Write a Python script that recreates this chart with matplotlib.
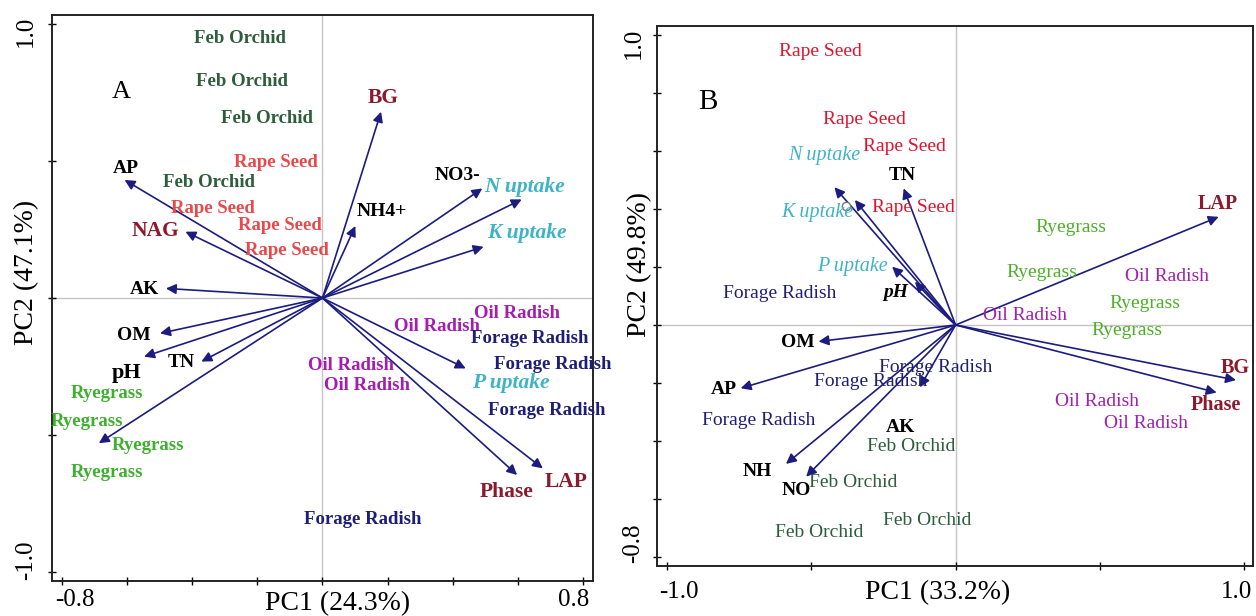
import matplotlib
matplotlib.use("Agg")
import matplotlib.pyplot as plt
from matplotlib.transforms import ScaledTranslation

# ---------------- data : panel A ----------------
A_arrow_vars = ['BG', 'AP', 'NAG', 'AK', 'NH4+', 'NO3-', 'N uptake', 'K uptake',
                'OM', 'pH', 'TN', '', 'P uptake', 'Phase', 'LAP']
A_arrow_pc1 = [0.180, -0.608, -0.421, -0.481, 0.101, 0.491, 0.612, 0.495,
               -0.499, -0.548, -0.372, -0.687, 0.440, 0.598, 0.677]
A_arrow_pc2 = [0.680, 0.431, 0.242, 0.035, 0.263, 0.400, 0.360, 0.187,
               -0.129, -0.214, -0.232, -0.530, -0.257, -0.646, -0.622]

A_var_names = ['BG', 'AP', 'NAG', 'AK', 'NH4+', 'NO3-', 'N uptake', 'K uptake',
               'OM', 'pH', 'TN', 'P uptake', 'Phase', 'LAP']
A_var_lx = [0.186, -0.603, -0.512, -0.548, 0.183, 0.416, 0.620, 0.628,
            -0.578, -0.603, -0.433, 0.580, 0.565, 0.749]
A_var_ly = [0.729, 0.473, 0.246, 0.032, 0.315, 0.449, 0.404, 0.236,
            -0.135, -0.275, -0.236, -0.309, -0.707, -0.670]

A_sample_names = ['Feb Orchid'] * 4 + ['Rape Seed'] * 4 + ['Oil Radish'] * 4 + \
                 ['Forage Radish'] * 4 + ['Ryegrass'] * 4
A_sample_pc1 = [-0.253, -0.248, -0.170, -0.348,
                -0.144, -0.336, -0.132, -0.108,
                0.598, 0.353, 0.089, 0.137,
                0.637, 0.707, 0.689, 0.125,
                -0.663, -0.724, -0.536, -0.661]
A_sample_pc2 = [0.948, 0.789, 0.656, 0.422,
                0.495, 0.327, 0.266, 0.175,
                -0.056, -0.105, -0.245, -0.321,
                -0.147, -0.241, -0.409, -0.807,
                -0.350, -0.451, -0.540, -0.637]

# ---------------- data : panel B ----------------
B_arrow_vars = ['N uptake', 'K uptake', 'TN', 'LAP', 'P uptake', 'pH', 'OM', 'AP',
                'BG', 'Phase', 'AK', 'NH', 'NO']
B_arrow_pc1 = [-0.420, -0.349, -0.180, 0.912, -0.220, -0.141, -0.475, -0.745,
               0.972, 0.905, -0.124, -0.588, -0.518]
B_arrow_pc2 = [0.475, 0.431, 0.471, 0.373, 0.201, 0.149, -0.057, -0.218,
               -0.190, -0.233, -0.215, -0.479, -0.523]

B_var_names = B_arrow_vars
B_var_lx = [-0.455, -0.479, -0.184, 0.908, -0.359, -0.208, -0.546, -0.803,
            0.968, 0.902, -0.190, -0.687, -0.553]
B_var_ly = [0.583, 0.389, 0.515, 0.417, 0.201, 0.111, -0.060, -0.222,
            -0.149, -0.276, -0.354, -0.506, -0.569]

B_sample_names = ['Rape Seed'] * 4 + ['Ryegrass'] * 4 + ['Oil Radish'] * 4 + \
                 ['Forage Radish'] * 4 + ['Feb Orchid'] * 4
B_sample_pc1 = [-0.469, -0.317, -0.177, -0.145,
                0.400, 0.299, 0.658, 0.595,
                0.733, 0.240, 0.489, 0.661,
                -0.610, -0.070, -0.293, -0.683,
                -0.155, -0.356, -0.100, -0.473]
B_sample_pc2 = [0.942, 0.709, 0.617, 0.405,
                0.336, 0.182, 0.075, -0.020,
                0.167, 0.034, -0.264, -0.339,
                0.107, -0.146, -0.195, -0.331,
                -0.420, -0.543, -0.675, -0.716]
B_point_pc1 = [-0.380]
B_point_pc2 = [0.411]

# ---------------- styles ----------------
SERIF = ['Liberation Serif', 'DejaVu Serif']
NAVY = '#1c1c80'
DARKRED = '#8b1a2e'
TEAL = '#3fb3c6'

A_sample_colors = {'Feb Orchid': '#2d5e3c', 'Rape Seed': '#e84a4c',
                   'Oil Radish': '#a41db0', 'Forage Radish': '#1e1e78',
                   'Ryegrass': '#3db02d'}
B_sample_colors = {'Feb Orchid': '#2d5e3c', 'Rape Seed': '#e0142d',
                   'Oil Radish': '#a020b0', 'Forage Radish': '#1e1e78',
                   'Ryegrass': '#4caf26'}
enzymes = {'BG', 'NAG', 'LAP', 'Phase'}
uptakes = {'N uptake', 'K uptake', 'P uptake'}


def var_style(name, panel):
    if name in enzymes:
        return dict(color=DARKRED, fontweight='bold', fontstyle='normal',
                    fontsize=15.5 if panel == 'A' else 14.5)
    if name in uptakes:
        return dict(color=TEAL, fontweight='bold' if panel == 'A' else 'normal',
                    fontstyle='italic', fontsize=15.5 if panel == 'A' else 14.5)
    if name == 'pH':
        return dict(color='black', fontweight='bold',
                    fontstyle='normal' if panel == 'A' else 'italic',
                    fontsize=16 if panel == 'A' else 14)
    return dict(color='black', fontweight='bold', fontstyle='normal',
                fontsize=14)


fig = plt.figure(figsize=(12.56, 6.16), dpi=100)
axA = fig.add_axes([0.0414, 0.0568, 0.4307, 0.9188])
axB = fig.add_axes([0.5231, 0.0812, 0.4745, 0.8766])


def shift(label, dx_px, dy_px):
    label.set_transform(label.get_transform() +
                        ScaledTranslation(dx_px / 100.0, dy_px / 100.0,
                                          fig.dpi_scale_trans))


def setup(ax, xlim, ylim, xticks, yticks, xlab, ylab, xlab_pos, ylab_pos,
          xpad, ypad, xshift, yshift, tsize):
    ax.set_xlim(*xlim)
    ax.set_ylim(*ylim)
    ax.axhline(0, color='#c4c4c4', lw=1.0, zorder=0)
    ax.axvline(0, color='#c4c4c4', lw=1.0, zorder=0)
    ax.set_xticks(xticks)
    ax.set_yticks(yticks)
    ax.set_xticklabels([f'{t:.1f}' if i in (0, len(xticks) - 1) else ''
                        for i, t in enumerate(xticks)],
                       fontfamily=SERIF, fontsize=tsize)
    ax.set_yticklabels([f'{t:.1f}' if i in (0, len(yticks) - 1) else ''
                        for i, t in enumerate(yticks)],
                       fontfamily=SERIF, fontsize=tsize, rotation=90, va='center')
    ax.tick_params(axis='both', direction='inout', length=6, width=1.0,
                   colors='black')
    ax.tick_params(axis='x', pad=xpad)
    ax.tick_params(axis='y', pad=ypad)
    xl = ax.get_xticklabels()
    yl = ax.get_yticklabels()
    shift(xl[0], xshift[0], 0)
    shift(xl[-1], xshift[1], 0)
    shift(yl[0], 0, yshift[0])
    shift(yl[-1], 0, yshift[1])
    for s in ax.spines.values():
        s.set_linewidth(1.4)
        s.set_color('#222222')
    ax.set_xlabel(xlab, fontfamily=SERIF, fontsize=20)
    ax.set_ylabel(ylab, fontfamily=SERIF, fontsize=20)
    ax.xaxis.set_label_coords(*xlab_pos)
    ax.yaxis.set_label_coords(*ylab_pos)
    ax.xaxis.label.set_va('center')
    ax.yaxis.label.set_va('center')


def arrows(ax, xs, ys):
    for x, y in zip(xs, ys):
        ax.annotate('', xy=(x, y), xytext=(0, 0),
                    arrowprops=dict(arrowstyle='-|>', color=NAVY, lw=1.2,
                                    mutation_scale=15, shrinkA=0, shrinkB=0),
                    zorder=3)


# ---------------- panel A ----------------
A_xticks = [-0.8, -0.6, -0.4, -0.2, 0.0, 0.2, 0.4, 0.6, 0.8]
A_yticks = [-1.0, -0.5, 0.0, 0.5, 1.0]
setup(axA, (-0.831, 0.831), (-1.033, 1.033), A_xticks, A_yticks,
      'PC1 (24.3%)', 'PC2 (47.1%)', (0.527, -0.040), (-0.047, 0.546),
      3, 8, (13, -9), (12, -7), 18)
arrows(axA, A_arrow_pc1, A_arrow_pc2)
for n, x, y in zip(A_var_names, A_var_lx, A_var_ly):
    axA.text(x, y, n, ha='center', va='center', fontfamily=SERIF,
             zorder=4, **var_style(n, 'A'))
for n, x, y in zip(A_sample_names, A_sample_pc1, A_sample_pc2):
    axA.text(x, y, n, ha='center', va='center', fontfamily=SERIF,
             fontweight='bold', fontsize=13.5, color=A_sample_colors[n], zorder=4)
axA.text(-0.617, 0.753, 'A', ha='center', va='center', fontfamily=SERIF,
         fontsize=19, color='black')

# ---------------- panel B ----------------
B_xticks = [-1.0, -0.5, 0.0, 0.5, 1.0]
B_yticks = [-0.8, -0.6, -0.4, -0.2, 0.0, 0.2, 0.4, 0.6, 0.8, 1.0]
setup(axB, (-1.035, 1.031), (-0.831, 1.031), B_xticks, B_yticks,
      'PC1 (33.2%)', 'PC2 (49.8%)', (0.471, -0.050), (-0.030, 0.559),
      8, 6, (12, -8), (14, -8), 18)
arrows(axB, B_arrow_pc1, B_arrow_pc2)
axB.plot(B_point_pc1, B_point_pc2, 'o', mfc='white', mec='#777777',
         ms=6, mew=1.0, zorder=4)
for n, x, y in zip(B_var_names, B_var_lx, B_var_ly):
    axB.text(x, y, n, ha='center', va='center', fontfamily=SERIF,
             zorder=4, **var_style(n, 'B'))
for n, x, y in zip(B_sample_names, B_sample_pc1, B_sample_pc2):
    axB.text(x, y, n, ha='center', va='center', fontfamily=SERIF,
             fontsize=14, color=B_sample_colors[n], zorder=4)
axB.text(-0.859, 0.770, 'B', ha='center', va='center', fontfamily=SERIF,
         fontsize=21, color='black')

fig.savefig('out.png', dpi=100, facecolor='white')
